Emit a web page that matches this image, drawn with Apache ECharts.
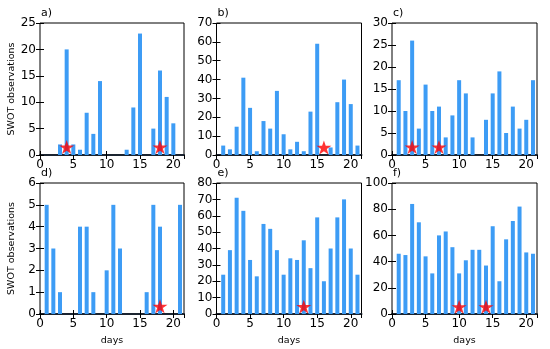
<!DOCTYPE html>
<html><head><meta charset="utf-8">
<script src="https://cdn.jsdelivr.net/npm/echarts@6/dist/echarts.min.js"></script>
<style>html,body{margin:0;padding:0;background:#fff}#c{width:550px;height:349px}</style>
</head><body><div id="c"></div>
<script>
const days = [1,2,3,4,5,6,7,8,9,10,11,12,13,14,15,16,17,18,19,20,21];
const valuesA = [0,0,2,20,2,1,8,4,14,0,0,0,1,9,23,0,5,16,11,6,0];
const valuesB = [5,3,15,41,25,2,18,14,34,11,3,7,2,23,59,0,4,28,40,27,5];
const valuesC = [17,10,26,6,16,10,11,4,9,17,14,4,0,8,14,19,5,11,6,8,17];
const valuesD = [5,3,1,0,0,4,4,1,0,2,5,3,0,0,0,1,5,4,0,0,5];
const valuesE = [24,39,71,63,33,23,55,52,39,24,34,33,45,28,59,20,40,59,70,40,24];
const valuesF = [46,45,84,70,44,31,60,63,51,31,41,49,49,37,67,25,57,71,82,47,46];
const starsA = [[4,1.5],[18,1.5]];
const starsB = [[16,4]];
const starsC = [[3,1.8],[7,1.8]];
const starsD = [[18,0.35]];
const starsE = [[13,4.5]];
const starsF = [[10,5.5],[14,5.5]];
const panelLabels = ['a)','b)','c)','d)','e)','f)'];
const yMax = [25,70,30,6,80,100];
const yStep = [5,10,5,1,10,20];
const xTicks = {min:0, max:21.6, interval:5};

const allValues = [valuesA,valuesB,valuesC,valuesD,valuesE,valuesF];
const allStars = [starsA,starsB,starsC,starsD,starsE,starsF];

const lefts = [40,216.5,392];
const widths = [144,145,145];
const tops = [23,183];
const heights = [132,131];

const star = 'path://M12,0 L14.9,8.8 L24,8.8 L16.6,14.2 L19.4,23 L12,17.6 L4.6,23 L7.4,14.2 L0,8.8 L9.1,8.8 Z';
const font = 'DejaVu Sans';
const grids=[], xAxes=[], yAxes=[], series=[], graphics=[];
for (let i=0;i<6;i++){
  const col=i%3, row=Math.floor(i/3);
  grids.push({left:lefts[col], top:tops[row], width:widths[col], height:heights[row], show:true, borderColor:'#000', borderWidth:1, backgroundColor:'transparent'});
  const tick={show:true, inside:true, length:4, lineStyle:{color:'#000'}};
  xAxes.push({type:'value', gridIndex:i, position:'bottom', min:xTicks.min, max:xTicks.max, interval:xTicks.interval,
    axisLine:{show:true, onZero:false, lineStyle:{color:'#1b2430', width:2}}, axisTick:tick, splitLine:{show:false},
    axisLabel:{color:'#000', fontFamily:font, fontSize:12, margin:4, showMaxLabel:false},
    name: row===1?'days':'', nameLocation:'middle', nameGap:22, nameTextStyle:{fontFamily:font, fontSize:9.5, color:'#000'}});
  xAxes.push({type:'value', gridIndex:i, position:'top', min:xTicks.min, max:xTicks.max, interval:xTicks.interval,
    axisLine:{show:false}, axisTick:tick, splitLine:{show:false}, axisLabel:{show:false}});
  yAxes.push({type:'value', gridIndex:i, position:'left', min:0, max:yMax[i], interval:yStep[i],
    axisLine:{show:false}, axisTick:tick, splitLine:{show:false},
    axisLabel:{color:'#000', fontFamily:font, fontSize:12, margin:4},
    name: col===0?'SWOT observations':'', nameLocation:'middle', nameGap:23, nameTextStyle:{fontFamily:font, fontSize:9.5, color:'#000'}});
  yAxes.push({type:'value', gridIndex:i, position:'right', min:0, max:yMax[i], interval:yStep[i],
    axisLine:{show:false}, axisTick:tick, splitLine:{show:false}, axisLabel:{show:false}});
  series.push({type:'bar', xAxisIndex:2*i, yAxisIndex:2*i, barWidth:4,
    itemStyle:{color:'#3d9cf5'}, data: days.map((d,k)=>[d, allValues[i][k]])});
  series.push({type:'scatter', xAxisIndex:2*i, yAxisIndex:2*i, symbol:star, symbolSize:[15,14],
    itemStyle:{color:'#ff0000'}, data: allStars[i], z:5});
  graphics.push({type:'text', left:lefts[col]+1, top:tops[row]-15, style:{text:panelLabels[i], font:'11px '+font, fill:'#000'}});
}
const chart = echarts.init(document.getElementById('c'), null, {renderer:'canvas'});
chart.setOption({animation:false, grid:grids, xAxis:xAxes, yAxis:yAxes, series:series, graphic:graphics});
</script></body></html>
